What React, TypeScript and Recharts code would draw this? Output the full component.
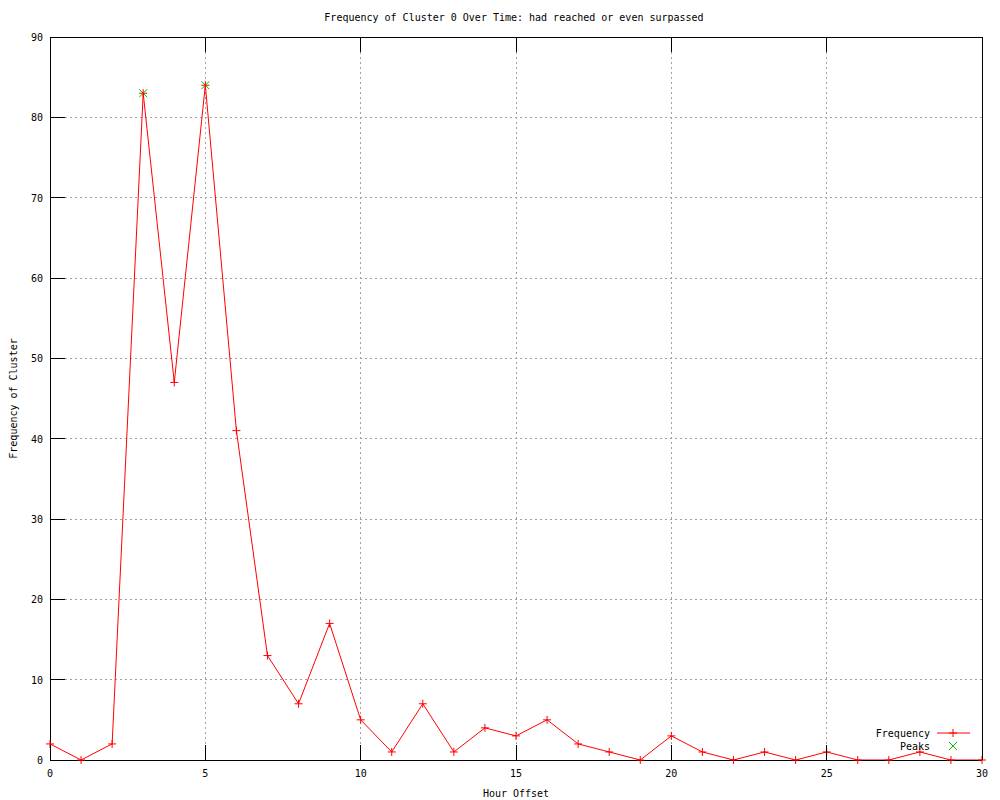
import React from 'react';
import { ComposedChart, Line, Scatter, XAxis, YAxis, CartesianGrid, Legend } from 'recharts';

const hours = [0, 1, 2, 3, 4, 5, 6, 7, 8, 9, 10, 11, 12, 13, 14, 15, 16, 17, 18, 19, 20, 21, 22, 23, 24, 25, 26, 27, 28, 29, 30];
const frequency = [2, 0, 2, 83, 47, 84, 41, 13, 7, 17, 5, 1, 7, 1, 4, 3, 5, 2, 1, 0, 3, 1, 0, 1, 0, 1, 0, 0, 1, 0, 0];
const peakHours = [3, 5];
const peakValues = [83, 84];
const xTicks = [0, 5, 10, 15, 20, 25, 30];
const yTicks = [0, 10, 20, 30, 40, 50, 60, 70, 80, 90];
const seriesNames = ['Frequency', 'Peaks'];
const titleText = 'Frequency of Cluster 0 Over Time: had reached or even surpassed';
const xLabelText = 'Hour Offset';
const yLabelText = 'Frequency of Cluster';

const data = hours.map((h, i) => ({ hour: h, freq: frequency[i] }));
const peakData = peakHours.map((h, i) => ({ hour: h, peak: peakValues[i] }));

const FONT = '"DejaVu Sans Mono", monospace';
const FS = 10;
const TICK = 15;
const M = 8;
const RED = '#ff0000';
const GREEN = '#00c000';

const BottomTick = (props: any) => {
  const { x, y, payload } = props;
  const ay = y - M;
  return (
    <g>
      <line x1={x} x2={x} y1={ay} y2={ay - TICK} stroke="#000" strokeWidth={1} shapeRendering="crispEdges" />
      <text x={x} y={ay + 17} textAnchor="middle" fontFamily={FONT} fontSize={FS} fill="#000">{payload.value}</text>
    </g>
  );
};

const TopTick = (props: any) => {
  const { x, y } = props;
  const ay = y + M;
  return <line x1={x} x2={x} y1={ay} y2={ay + TICK} stroke="#000" strokeWidth={1} shapeRendering="crispEdges" />;
};

const LeftTick = (props: any) => {
  const { x, y, payload } = props;
  const ax = x + M;
  return (
    <g>
      <line x1={ax} x2={ax + TICK} y1={y} y2={y} stroke="#000" strokeWidth={1} shapeRendering="crispEdges" />
      <text x={ax - 7} y={y + 4} textAnchor="end" fontFamily={FONT} fontSize={FS} fill="#000">{payload.value}</text>
    </g>
  );
};

const RightTick = (props: any) => {
  const { x, y } = props;
  const ax = x - M;
  return <line x1={ax} x2={ax - TICK} y1={y} y2={y} stroke="#000" strokeWidth={1} shapeRendering="crispEdges" />;
};

const PlusDot = (props: any) => {
  const { cx, cy, index } = props;
  if (cx == null || cy == null) return <g key={`p${index}`} />;
  return (
    <path key={`p${index}`} d={`M${cx - 4},${cy}h8M${cx},${cy - 4}v8`} stroke={RED} strokeWidth={1} fill="none" />
  );
};

const CrossShape = (props: any) => {
  const { cx, cy } = props;
  return (
    <path d={`M${cx - 4},${cy - 4}l8,8M${cx - 4},${cy + 4}l8,-8`} stroke={GREEN} strokeWidth={1} fill="none" />
  );
};

const LegendContent = () => (
  <svg width={140} height={30} style={{ display: 'block' }}>
    <text x={80} y={12} textAnchor="end" fontFamily={FONT} fontSize={FS} fill="#000">{seriesNames[0]}</text>
    <line x1={87} x2={120} y1={8} y2={8} stroke={RED} strokeWidth={1} />
    <path d={`M99,8h8M103,4v8`} stroke={RED} strokeWidth={1} />
    <text x={80} y={25} textAnchor="end" fontFamily={FONT} fontSize={FS} fill="#000">{seriesNames[1]}</text>
    <path d={`M99,17l8,8M99,25l8,-8`} stroke={GREEN} strokeWidth={1} />
  </svg>
);

export default function App() {
  return (
    <div style={{ position: 'absolute', left: 0, top: 0, width: 1000, height: 800, background: '#fff' }}>
      <ComposedChart width={1000} height={800} data={data} margin={{ top: 36, right: 17, bottom: 0, left: 0 }}>
        <CartesianGrid xAxisId="b" yAxisId="l" stroke="#a0a0a0" strokeDasharray="2 3" shapeRendering="crispEdges" />
        <XAxis
          xAxisId="b"
          dataKey="hour"
          type="number"
          domain={[0, 30]}
          ticks={xTicks}
          interval={0}
          height={40}
          tickSize={0}
          tickMargin={M}
          tick={<BottomTick />}
          axisLine={{ stroke: '#000', strokeWidth: 1, shapeRendering: 'crispEdges' }}
          tickLine={false}
          label={{
            content: (p: any) => {
              const vb = p.viewBox;
              return (
                <text x={vb.x + vb.width / 2} y={vb.y + 37} textAnchor="middle" fontFamily={FONT} fontSize={FS} fill="#000">{xLabelText}</text>
              );
            },
          }}
        />
        <XAxis
          xAxisId="t"
          orientation="top"
          dataKey="hour"
          type="number"
          domain={[0, 30]}
          ticks={xTicks}
          interval={0}
          height={1}
          tickSize={0}
          tickMargin={M}
          tick={<TopTick />}
          axisLine={{ stroke: '#000', strokeWidth: 1, shapeRendering: 'crispEdges' }}
          tickLine={false}
          label={{
            content: (p: any) => {
              const vb = p.viewBox;
              return (
                <text x={vb.x + vb.width / 2 - 2} y={vb.y - 15} textAnchor="middle" fontFamily={FONT} fontSize={FS} fill="#000">{titleText}</text>
              );
            },
          }}
        />
        <YAxis
          yAxisId="l"
          type="number"
          domain={[0, 90]}
          ticks={yTicks}
          interval={0}
          width={50}
          tickSize={0}
          tickMargin={M}
          tick={<LeftTick />}
          axisLine={{ stroke: '#000', strokeWidth: 1, shapeRendering: 'crispEdges' }}
          tickLine={false}
          label={{
            content: (p: any) => {
              const vb = p.viewBox;
              const cx = vb.x + 13;
              const cy = vb.y + vb.height / 2;
              return (
                <text x={cx} y={cy} transform={`rotate(-90 ${cx} ${cy})`} textAnchor="middle" dominantBaseline="central" fontFamily={FONT} fontSize={FS} fill="#000">{yLabelText}</text>
              );
            },
          }}
        />
        <YAxis
          yAxisId="r"
          orientation="right"
          type="number"
          domain={[0, 90]}
          ticks={yTicks}
          interval={0}
          width={1}
          tickSize={0}
          tickMargin={M}
          tick={<RightTick />}
          axisLine={{ stroke: '#000', strokeWidth: 1, shapeRendering: 'crispEdges' }}
          tickLine={false}
        />
        <Legend
          layout="horizontal"
          verticalAlign="middle"
          align="center"
          content={<LegendContent />}
          wrapperStyle={{ left: 850, top: 725, width: 140, height: 30 }}
        />
        <Line
          xAxisId="b"
          yAxisId="l"
          name={seriesNames[0]}
          type="linear"
          dataKey="freq"
          stroke={RED}
          strokeWidth={1}
          dot={PlusDot}
          activeDot={false}
          isAnimationActive={false}
        />
        <Scatter
          xAxisId="b"
          yAxisId="l"
          name={seriesNames[1]}
          data={peakData}
          dataKey="peak"
          fill={GREEN}
          shape={CrossShape}
          isAnimationActive={false}
        />
      </ComposedChart>
    </div>
  );
}
